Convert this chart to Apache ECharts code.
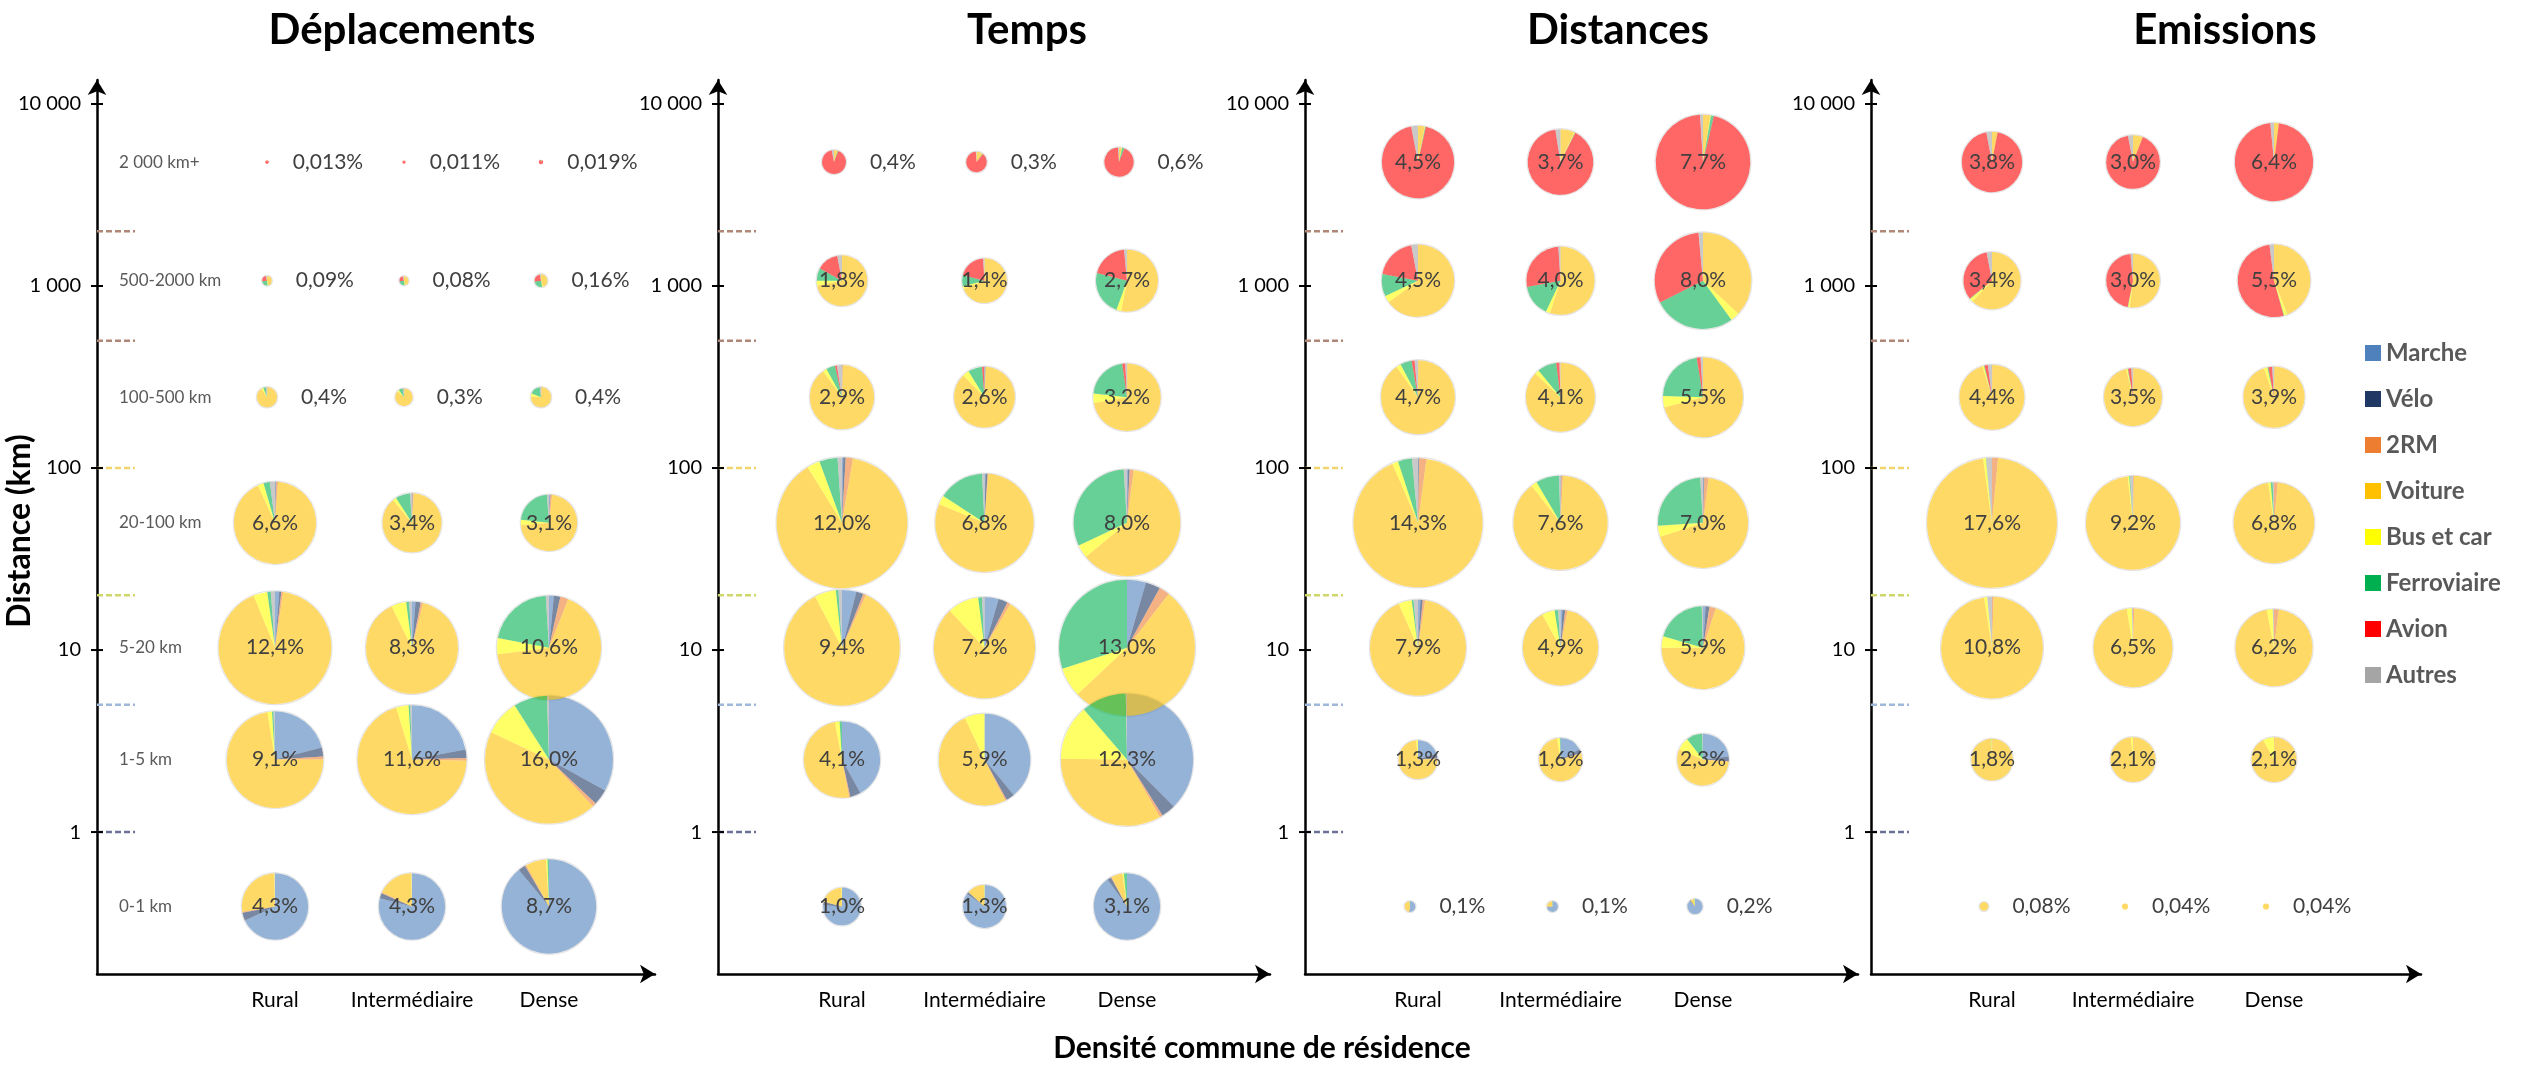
<!DOCTYPE html>
<html><head><meta charset="utf-8">
<script src="https://cdn.jsdelivr.net/npm/echarts@6/dist/echarts.min.js"></script>
<style>html,body{margin:0;padding:0;background:#fff}#c{width:2524px;height:1065px}</style>
</head><body><div id="c"></div>
<script>
// ---------------- DATA ----------------
const categories = ['Rural', 'Intermédiaire', 'Dense'];
const bands = ['0-1 km', '1-5 km', '5-20 km', '20-100 km', '100-500 km', '500-2000 km', '2 000 km+'];
const bandCenters = [0.39, 2.5, 10.3, 50, 245, 1070, 4800];   // distance (km) at which each band's pies sit
const bandBounds = [1, 5, 20, 100, 500, 2000];
const yTicks = [1, 10, 100, 1000, 10000];
const modes = ['Marche', 'Vélo', '2RM', 'Voiture', 'Bus et car', 'Ferroviaire', 'Avion', 'Autres'];
const panelTitles = ['Déplacements', 'Temps', 'Distances', 'Emissions'];

// totals[band][Rural, Intermédiaire, Dense] in %
const deplTotals = [[4.3, 4.3, 8.7], [9.1, 11.6, 16.0], [12.4, 8.3, 10.6], [6.6, 3.4, 3.1], [0.4, 0.3, 0.4], [0.09, 0.08, 0.16], [0.013, 0.011, 0.019]];
const tempsTotals = [[1.0, 1.3, 3.1], [4.1, 5.9, 12.3], [9.4, 7.2, 13.0], [12.0, 6.8, 8.0], [2.9, 2.6, 3.2], [1.8, 1.4, 2.7], [0.4, 0.3, 0.6]];
const distTotals = [[0.1, 0.1, 0.2], [1.3, 1.6, 2.3], [7.9, 4.9, 5.9], [14.3, 7.6, 7.0], [4.7, 4.1, 5.5], [4.5, 4.0, 8.0], [4.5, 3.7, 7.7]];
const emisTotals = [[0.08, 0.04, 0.04], [1.8, 2.1, 2.1], [10.8, 6.5, 6.2], [17.6, 9.2, 6.8], [4.4, 3.5, 3.9], [3.4, 3.0, 5.5], [3.8, 3.0, 6.4]];

// shares[band][col] = [Marche, Vélo, 2RM, Voiture, Bus et car, Ferroviaire, Avion, Autres]
const deplShares = [
  [[68, 4, 0.5, 27, 0.3, 0, 0, 0.2], [79, 2.5, 0.5, 17.5, 0.3, 0, 0, 0.2], [89, 2.5, 0.5, 7, 0.5, 0.5, 0, 0]],
  [[21, 3, 1, 72.5, 1.5, 0.5, 0, 0.5], [22, 2.5, 0.8, 70, 3.7, 0.5, 0, 0.5], [33, 4, 1, 44, 9, 8.5, 0, 0.5]],
  [[1.2, 0.6, 0.5, 91.5, 4, 1, 0, 1.2], [1.2, 1.8, 0.8, 88, 5.2, 1, 0, 1], [1.5, 2, 2.5, 67, 5, 21, 0, 1]],
  [[0.3, 0.2, 0.7, 92, 2.3, 2.5, 0, 2], [0.2, 0.2, 0.5, 88, 2, 8, 0, 1.1], [0.5, 0.3, 1, 72, 3, 22, 0, 1.2]],
  [[0.5, 0, 0.5, 90, 3, 4, 0, 2], [0.5, 0, 0.5, 86, 3, 8, 0, 2], [0.5, 0, 0.5, 75, 5, 17, 0, 2]],
  [[0, 0, 0, 45, 3, 25, 22, 5], [0, 0, 0, 45, 3, 25, 22, 5], [0, 0, 0, 45, 2, 25, 25, 3]],
  [[0, 0, 0, 3, 0, 2, 92, 3], [0, 0, 0, 3, 0, 2, 92, 3], [0, 0, 0, 5, 0, 3, 90, 2]]
];
const tempsShares = [
  [[76, 3, 0, 20.5, 0.5, 0, 0, 0], [85, 1.5, 0, 13, 0.5, 0, 0, 0], [90, 2, 0.3, 5.5, 0.7, 1.5, 0, 0]],
  [[42, 4.5, 0.5, 50, 2, 1, 0, 0], [39, 3, 0.5, 50.5, 7, 0, 0, 0], [37.5, 3.5, 0.7, 33.5, 13.5, 11, 0, 0.3]],
  [[4, 2, 0.8, 85.5, 6, 0.7, 0, 1], [4.5, 3, 1, 79.5, 10, 1.2, 0, 0.8], [4.5, 3.5, 2.5, 52.5, 7, 30, 0, 0]],
  [[0.3, 0.6, 1.8, 88.5, 3.2, 4.5, 0, 1.1], [0.3, 0.7, 0.2, 80, 3, 15, 0, 0.8], [0.3, 0.5, 1.2, 62, 4, 31, 0, 1]],
  [[0.2, 0, 0.3, 89.5, 2, 4.5, 1, 2.5], [0, 0.5, 0.2, 87, 3.5, 7.5, 1, 0.3], [0, 0, 0.2, 72, 4.5, 21, 1.5, 0.8]],
  [[0, 0, 0, 72, 3, 8, 14, 3], [0, 0, 0, 69, 2, 8, 20, 1], [0, 0, 0, 53, 2.5, 23.5, 19.5, 1.5]],
  [[0, 0, 0, 5, 0, 1, 91, 3], [0, 0, 0, 10, 0, 1, 88, 1], [0, 0, 0, 3, 0.5, 2.5, 93, 1]]
];
const distShares = [
  [[50, 2, 0, 46, 1, 1, 0, 0], [72, 2, 0, 24, 1, 1, 0, 0], [88, 2, 0, 8, 1, 1, 0, 0]],
  [[20, 4, 0.5, 74, 1.5, 0, 0, 0], [17, 3, 0.5, 77, 2, 0.5, 0, 0], [23, 3, 0.5, 55, 8, 10, 0, 0.5]],
  [[0.8, 0.8, 0.8, 91, 4.5, 0.6, 0, 1.5], [0.8, 1.2, 1, 89, 5.5, 1.5, 0, 1], [1, 1.5, 2.5, 70, 4.5, 20, 0, 0.5]],
  [[0.1, 0.2, 1.8, 91.4, 1.5, 3.5, 0, 1.5], [0.1, 0.2, 0.5, 88.7, 2, 8, 0, 0.5], [0.2, 0.3, 1.5, 68, 4, 25, 0, 1]],
  [[0, 0, 0.2, 90, 2, 5, 1.3, 1.5], [0, 0, 0, 87, 2, 9, 1.5, 0.5], [0, 0, 0, 71, 4.5, 22, 1.5, 1]],
  [[0, 0, 0, 65, 3, 10, 19, 3], [0, 0, 0, 55, 2, 15, 27, 1], [0, 0, 0, 37, 3, 27.5, 31, 1.5]],
  [[0, 0, 0, 3, 0.2, 0.3, 93.5, 3], [0, 0, 0, 7, 0.3, 0.2, 90, 2.5], [0, 0, 0, 2.5, 0.2, 1, 95.3, 1]]
];
const emisShares = [
  [[0, 0, 0, 100, 0, 0, 0, 0], [0, 0, 0, 100, 0, 0, 0, 0], [0, 0, 0, 100, 0, 0, 0, 0]],
  [[0, 0, 0.3, 99, 0.5, 0.2, 0, 0], [0, 0, 0.5, 98, 1.5, 0, 0, 0], [0, 0, 0.5, 91.5, 8, 0, 0, 0]],
  [[0, 0, 0.5, 97, 1, 0, 0, 1.5], [0, 0, 0.5, 97, 2, 0, 0, 0.5], [0, 0, 2, 95, 2.5, 0, 0, 0.5]],
  [[0, 0, 1.5, 96.3, 0.7, 0.1, 0, 1.4], [0, 0, 0.3, 97.9, 0.5, 0.3, 0, 1], [0, 0, 1.5, 96.2, 1, 0.8, 0, 0.5]],
  [[0, 0, 0.2, 95, 0.8, 0.3, 1.7, 2], [0, 0, 0.2, 96, 0.8, 0.3, 1.7, 1], [0, 0, 0.2, 94.5, 1.8, 0.5, 2, 1]],
  [[0, 0, 0, 62, 2, 0.3, 32.7, 3], [0, 0, 0, 52, 1, 0.2, 45.3, 1.5], [0, 0, 0, 44, 1.5, 0.2, 52.3, 2]],
  [[0, 0, 0, 3, 0, 0, 94, 3], [0, 0, 0, 6, 0, 0, 91, 3], [0, 0, 0, 2, 0, 0, 96.5, 1.5]]
];

const panelTotals = [deplTotals, tempsTotals, distTotals, emisTotals];
const panelShares = [deplShares, tempsShares, distShares, emisShares];

// ---------------- STYLE / LAYOUT ----------------
const FONT = 'Lato, "Open Sans", sans-serif';
const modeColors = ['#4f81bd', '#1f3864', '#ed7d31', '#ffc000', '#ffff00', '#00b050', '#ff0000', '#a5a5a5'];
const boundColors = ['#6b6f99', '#9fb8d9', '#cfd66a', '#f3d36b', '#b08676', '#b08676'];
const GRID_TOP = 80, GRID_BOTTOM = 974, Y_MIN = 0.166, Y_MAX = 13550;
const layout = [
  { left: 97, right: 655, c1: 275, unit: 137, titleX: 402, rMax: 64 },
  { left: 718, right: 1270, c1: 842, unit: 142.5, titleX: 1027, rMax: 68 },
  { left: 1305, right: 1858, c1: 1418, unit: 142.5, titleX: 1618, rMax: 64.5 },
  { left: 1871, right: 2421, c1: 1992, unit: 141, titleX: 2225, rMax: 65 }
];
layout.forEach((P, p) => {
  P.xMin = 1 - (P.c1 - P.left) / P.unit;
  P.xMax = 1 + (P.right - P.c1) / P.unit;
  let mx = 0;
  panelTotals[p].forEach(r => r.forEach(v => { mx = Math.max(mx, v); }));
  P.k = P.rMax / Math.sqrt(mx);
});

function fmtPct(v) {
  let s = String(v);
  if (s.indexOf('.') < 0) s += '.0';
  return s.replace('.', ',') + '%';
}
function fmtTick(v) {
  return String(Math.round(v)).replace(/\B(?=(\d{3})+(?!\d))/g, ' ');
}
const SHIFT = 8, GAP = 24;
const axisLineStyle = { color: '#000', width: 2.5 };

const grids = [], xAxes = [], yAxes = [], series = [];
layout.forEach((P, p) => {
  grids.push({ left: P.left, top: GRID_TOP, width: P.right - P.left, height: GRID_BOTTOM - GRID_TOP,
    containLabel: false, outerBoundsMode: 'none' });
  xAxes.push({
    type: 'value', gridIndex: p, min: P.xMin, max: P.xMax,
    splitLine: { show: false },
    axisLine: { show: true, onZero: false, symbol: ['none', 'arrow'], symbolSize: [14, 15], lineStyle: axisLineStyle },
    axisTick: { show: false },
    axisLabel: { customValues: [1, 2, 3], formatter: v => categories[Math.round(v) - 1] || '', color: '#000', fontSize: 21, fontFamily: FONT, margin: 16 }
  });
  yAxes.push({
    type: 'log', logBase: 10, gridIndex: p, min: Y_MIN, max: Y_MAX,
    splitLine: { show: false },
    axisLine: { show: true, onZero: false, symbol: ['none', 'arrow'], symbolSize: [14, 15], lineStyle: axisLineStyle },
    axisTick: { show: false },
    axisLabel: { customValues: yTicks, formatter: v => fmtTick(v), color: '#000', fontSize: 20, fontFamily: FONT, margin: 16 }
  });

  // tick marks crossing the axis
  series.push({
    type: 'custom', xAxisIndex: p, yAxisIndex: p, silent: true, z: 6,
    encode: { y: 0 },
    data: yTicks.map(t => [t]),
    renderItem: (params, api) => {
      const pt = api.coord([P.xMin, api.value(0)]);
      return { type: 'line', shape: { x1: pt[0] - 6, y1: pt[1], x2: pt[0] + 6, y2: pt[1] },
        style: { stroke: '#000', lineWidth: 2 } };
    }
  });

  // band boundary dashes
  series.push({
    type: 'custom', xAxisIndex: p, yAxisIndex: p, silent: true, z: 1,
    encode: { y: 0 },
    data: bandBounds.map((b, i) => [b, i]),
    renderItem: (params, api) => {
      const pt = api.coord([P.xMin, api.value(0)]);
      return { type: 'line', shape: { x1: pt[0], y1: pt[1], x2: pt[0] + 38, y2: pt[1] },
        style: { stroke: boundColors[api.value(1)], lineWidth: 2.5, lineDash: [6, 3] } };
    }
  });

  // band labels (first panel only)
  if (p === 0) {
    series.push({
      type: 'custom', xAxisIndex: p, yAxisIndex: p, silent: true, z: 3,
      encode: { y: 0 },
      data: bandCenters.map((c, i) => [c, i]),
      renderItem: (params, api) => {
        const pt = api.coord([P.xMin, api.value(0)]);
        return { type: 'text', x: pt[0] + 22, y: pt[1],
          style: { text: bands[api.value(1)], fill: '#595959', font: '17px ' + FONT,
            textAlign: 'left', textVerticalAlign: 'middle', align: 'left', verticalAlign: 'middle' } };
      }
    });
  }

  // faint outline of each pie
  const odata = [];
  panelTotals[p].forEach((row, b) => row.forEach((v, c) => odata.push([c + 1, bandCenters[b], v])));
  series.push({
    type: 'custom', xAxisIndex: p, yAxisIndex: p, silent: true, z: 1.5,
    encode: { x: 0, y: 1 },
    data: odata,
    renderItem: (params, api) => {
      const tot = api.value(2);
      const pt = api.coord([api.value(0), api.value(1)]);
      const r = P.k * Math.sqrt(tot);
      if (r < 4) return null;
      return { type: 'circle', shape: { cx: pt[0] - (tot < 1 ? SHIFT : 0), cy: pt[1], r: r + 0.6 },
        style: { fill: 'none', stroke: '#e4e4e4', lineWidth: 1.2 } };
    }
  });

  // pie slices: one series per mode
  modes.forEach((m, mi) => {
    const data = [];
    panelShares[p].forEach((row, b) => row.forEach((sh, c) => {
      const sum = sh.reduce((a, v) => a + v, 0);
      let before = 0;
      for (let j = 0; j < mi; j++) before += sh[j];
      data.push([c + 1, bandCenters[b], panelTotals[p][b][c], before / sum, (before + sh[mi]) / sum]);
    }));
    series.push({
      name: m, type: 'custom', xAxisIndex: p, yAxisIndex: p, z: 2,
      itemStyle: { color: modeColors[mi] },
      encode: { x: 0, y: 1 },
      data: data,
      renderItem: (params, api) => {
        const f0 = api.value(3), f1 = api.value(4);
        if (!(f1 - f0 > 0)) return null;
        const tot = api.value(2);
        const pt = api.coord([api.value(0), api.value(1)]);
        const r = P.k * Math.sqrt(tot);
        const cx = pt[0] - (tot < 1 ? SHIFT : 0);
        return { type: 'sector',
          shape: { cx: cx, cy: pt[1], r: r, r0: 0,
            startAngle: -Math.PI / 2 + 2 * Math.PI * f0, endAngle: -Math.PI / 2 + 2 * Math.PI * f1, clockwise: true },
          style: { fill: api.visual('color'), opacity: 0.6 } };
      }
    });
  });

  // percentage labels
  const ldata = [];
  panelTotals[p].forEach((row, b) => row.forEach((v, c) => ldata.push([c + 1, bandCenters[b], v])));
  series.push({
    type: 'custom', xAxisIndex: p, yAxisIndex: p, silent: true, z: 5,
    encode: { x: 0, y: 1 },
    data: ldata,
    renderItem: (params, api) => {
      const tot = api.value(2);
      const pt = api.coord([api.value(0), api.value(1)]);
      const r = P.k * Math.sqrt(tot);
      const outside = tot < 1;
      const x = outside ? pt[0] - SHIFT + r + GAP : pt[0];
      const al = outside ? 'left' : 'center';
      return { type: 'text', x: x, y: pt[1],
        style: { text: fmtPct(tot), fill: '#404040', font: '21px ' + FONT,
          textAlign: al, textVerticalAlign: 'middle', align: al, verticalAlign: 'middle' } };
    }
  });
});

const graphics = layout.map((P, p) => ({
  type: 'text', x: P.titleX, y: 30,
  style: { text: panelTitles[p], font: 'bold 42px ' + FONT, fill: '#000', textAlign: 'center', textVerticalAlign: 'middle', align: 'center', verticalAlign: 'middle' }
}));
graphics.push({
  type: 'text', x: 1262, y: 1048,
  style: { text: 'Densité commune de résidence', font: 'bold 30px ' + FONT, fill: '#000', textAlign: 'center', textVerticalAlign: 'middle', align: 'center', verticalAlign: 'middle' }
});
graphics.push({
  type: 'text', x: 20, y: 531, rotation: Math.PI / 2,
  style: { text: 'Distance (km)', font: 'bold 32px ' + FONT, fill: '#000', textAlign: 'center', textVerticalAlign: 'middle', align: 'center', verticalAlign: 'middle' }
});

const chart = echarts.init(document.getElementById('c'), null, { renderer: 'canvas' });
chart.setOption({
  animation: false,
  backgroundColor: '#fff',
  grid: grids, xAxis: xAxes, yAxis: yAxes,
  legend: {
    orient: 'vertical', left: 2360, top: 336, icon: 'rect', itemWidth: 16, itemHeight: 16, itemGap: 22,
    data: modes, selectedMode: false,
    textStyle: { fontFamily: FONT, fontWeight: 'bold', fontSize: 24, color: '#595959' }
  },
  graphic: graphics,
  series: series
});
</script>
</body></html>
